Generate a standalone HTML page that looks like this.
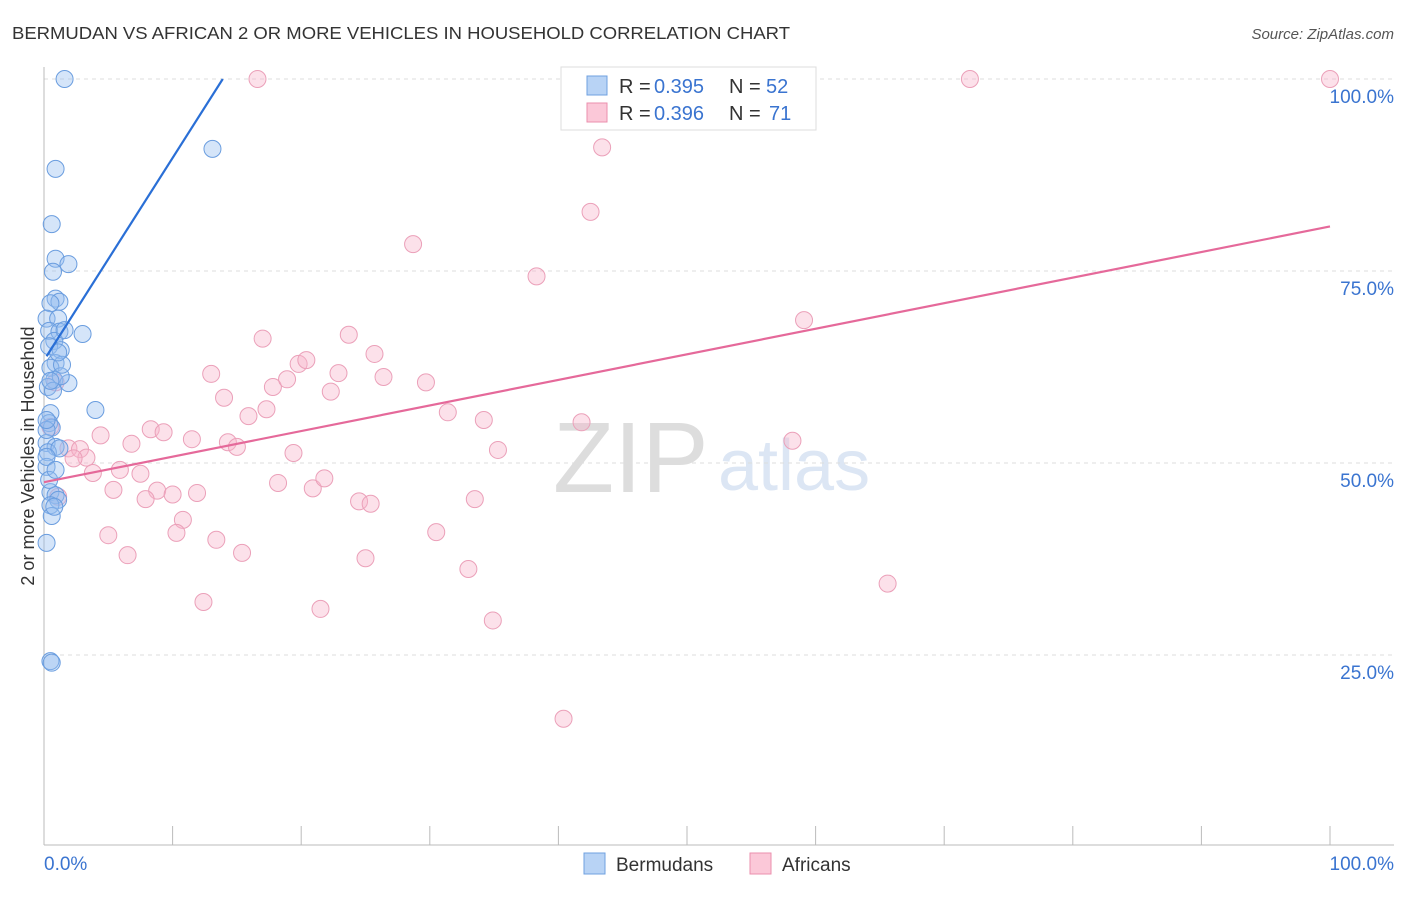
<!DOCTYPE html>
<html><head><meta charset="utf-8"><style>
body{margin:0;background:#fff;font-family:"Liberation Sans",sans-serif}
svg text{font-family:"Liberation Sans",sans-serif}
</style></head><body>
<svg width="1406" height="892">
<text x="12" y="39" font-size="17.5" fill="#333" textLength="778" lengthAdjust="spacingAndGlyphs">BERMUDAN VS AFRICAN 2 OR MORE VEHICLES IN HOUSEHOLD CORRELATION CHART</text>
<text x="1394" y="39" font-size="15" fill="#555" font-style="italic" text-anchor="end">Source: ZipAtlas.com</text>
<text x="34" y="456" font-size="18" fill="#333" text-anchor="middle" transform="rotate(-90 34 456)">2 or more Vehicles in Household</text>
<text x="553" y="492" font-size="100" fill="#ddd" font-family="Liberation Serif">ZIP</text>
<text x="718" y="490" font-size="72" fill="#dce6f4">atlas</text>
<g id="grid"></g><g id="axes"></g><g id="pts"></g><g id="lines"></g>
<g>
<rect x="561" y="67" width="255" height="63" fill="#fff" stroke="#ddd"/>
<rect x="587" y="76" width="20" height="19" fill="#b8d3f5" stroke="#6fa0e0"/>
<rect x="587" y="103" width="20" height="19" fill="#fbc8d8" stroke="#eb8fae"/>
<text x="619" y="93" font-size="20" fill="#333">R =</text><text x="654" y="93" font-size="20" fill="#3a74d0">0.395</text>
<text x="729" y="93" font-size="20" fill="#333">N =</text><text x="766" y="93" font-size="20" fill="#3a74d0">52</text>
<text x="619" y="120" font-size="20" fill="#333">R =</text><text x="654" y="120" font-size="20" fill="#3a74d0">0.396</text>
<text x="729" y="120" font-size="20" fill="#333">N =</text><text x="769" y="120" font-size="20" fill="#3a74d0">71</text>
</g>
<g>
<rect x="584" y="853" width="21" height="21" fill="#b8d3f5" stroke="#6fa0e0"/>
<text x="616" y="871" font-size="19" fill="#333">Bermudans</text>
<rect x="750" y="853" width="21" height="21" fill="#fbc8d8" stroke="#eb8fae"/>
<text x="782" y="871" font-size="19" fill="#333">Africans</text>
</g>
</svg>
<script>
const yTicks=[25,50,75,100];
const yTickLabels=["25.0%","50.0%","75.0%","100.0%"];
const blueX=[1.6,13.1,0.9,0.6,0.9,1.9,0.7,0.9,1.2,0.5,0.2,1.1,0.4,1.2,3.0,0.8,0.4,1.3,0.9,0.5,0.8,1.9,1.3,4.0,0.5,0.4,0.6,0.2,0.9,0.3,0.2,0.5,0.9,1.1,0.5,0.6,0.2,0.5,0.6,1.2,0.2,0.3,1.4,0.4,0.8,0.2,0.7,1.1,0.2,1.6,0.9,0.5];
const blueY=[100,90.9,88.3,81.1,76.6,75.9,74.9,71.4,71.0,70.8,68.8,68.8,67.2,67.1,66.8,65.9,65.2,64.7,63.0,62.4,60.8,60.4,61.3,56.9,56.5,55.2,54.6,52.6,52.1,51.4,49.5,46.2,45.8,45.2,44.5,43.1,39.6,24.2,24.0,51.9,54.3,59.9,62.8,47.8,44.3,50.8,59.4,64.4,55.6,67.3,49.1,60.7];
const pinkX=[16.6,72,100,43.4,42.5,28.7,38.3,59.1,17,23.7,25.7,13,14,19.8,20.4,17.8,18.9,22.9,26.4,29.7,22.3,15.9,17.3,31.4,34.2,41.8,8.3,9.3,4.4,6.8,11.5,14.3,15,19.4,35.3,58.2,1.9,2.8,3.3,2.3,3.8,5.9,7.5,5.4,8.8,10,11.9,7.9,18.2,20.9,21.8,24.5,25.4,33.5,10.8,10.3,5,13.4,6.5,15.4,30.5,25,33,65.6,12.4,21.5,34.9,40.4,0.9,0.5,1.1];
const pinkY=[100,100,100,91.1,82.7,78.5,74.3,68.6,66.2,66.7,64.2,61.6,58.5,62.9,63.4,59.9,60.9,61.7,61.2,60.5,59.3,56.1,57,56.6,55.6,55.3,54.4,54,53.6,52.5,53.1,52.7,52.1,51.3,51.7,52.9,51.9,51.8,50.7,50.6,48.7,49.1,48.6,46.5,46.4,45.9,46.1,45.3,47.4,46.7,48,45,44.7,45.3,42.6,40.9,40.6,40,38,38.3,41,37.6,36.2,34.3,31.9,31,29.5,16.7,60.5,54.7,45.6];
const blueTrend=[0.2,63.9,13.9,100];
const pinkTrend=[0,47.5,100,80.8];
const X=v=>44+v*12.86, Y=v=>847-v*7.68;
const NS="http://www.w3.org/2000/svg";
function mk(p,tag,a){const e=document.createElementNS(NS,tag);for(const k in a)e.setAttribute(k,a[k]);document.getElementById(p).appendChild(e);return e;}
yTicks.forEach((t,i)=>{
 const l=mk('grid','line',{x1:44,x2:1394,y1:Y(t),y2:Y(t),stroke:'#ddd','stroke-dasharray':'4 4'});
 
 
 const tx=mk('grid','text',{x:1394,y:Y(t)+24,'font-size':19,fill:'#3a74d0','text-anchor':'end'});tx.textContent=yTickLabels[i];
 
 
});
const ax=mk('axes','line',{x1:44,x2:1394,y1:845,y2:845,stroke:'#bbb'});


const ay=mk('axes','line',{x1:44,x2:44,y1:67,y2:845,stroke:'#bbb'});


for(let k=1;k<=10;k++){const t=mk('axes','line',{x1:X(k*10),x2:X(k*10),y1:826,y2:845,stroke:'#bbb'});
 
 }
const x0=mk('axes','text',{x:44,y:870,'font-size':19,fill:'#3a74d0'});x0.textContent='0.0%';


const x1=mk('axes','text',{x:1394,y:870,'font-size':19,fill:'#3a74d0','text-anchor':'end'});x1.textContent='100.0%';


pinkX.forEach((v,i)=>{const c=mk('pts','circle',{cx:X(v),cy:Y(pinkY[i]),r:8.5,fill:'rgba(248,180,202,0.4)',stroke:'#eba0b9','stroke-width':1});
 
 });
blueX.forEach((v,i)=>{const c=mk('pts','circle',{cx:X(v),cy:Y(blueY[i]),r:8.5,fill:'rgba(150,190,240,0.4)',stroke:'#6a9ddf','stroke-width':1});
 
 });
const bl=mk('lines','line',{x1:X(blueTrend[0]),y1:Y(blueTrend[1]),x2:X(blueTrend[2]),y2:Y(blueTrend[3]),stroke:'#2a6fd6','stroke-width':2.2});


const pl=mk('lines','line',{x1:X(pinkTrend[0]),y1:Y(pinkTrend[1]),x2:X(pinkTrend[2]),y2:Y(pinkTrend[3]),stroke:'#e5699a','stroke-width':2.2});


</script>
</body></html>
